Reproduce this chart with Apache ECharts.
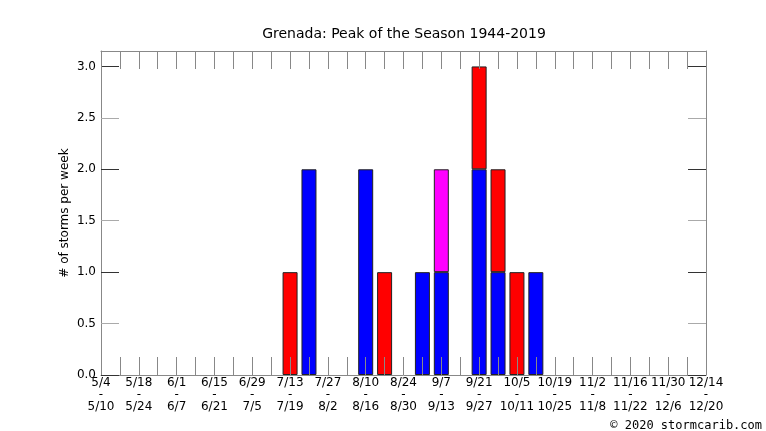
<!DOCTYPE html>
<html><head><meta charset="utf-8">
<script src="https://cdn.jsdelivr.net/npm/echarts@6/dist/echarts.min.js"></script>
<style>html,body{margin:0;padding:0;background:#fff}#c{width:766px;height:431px}</style>
</head><body><div id="c"></div>
<script>
var weekStarts = ['5/4','5/11','5/18','5/25','6/1','6/8','6/15','6/22','6/29','7/6','7/13','7/20','7/27','8/3','8/10','8/17','8/24','8/31','9/7','9/14','9/21','9/28','10/5','10/12','10/19','10/26','11/2','11/9','11/16','11/23','11/30','12/7','12/14'];
var weekEnds = ['5/10','5/17','5/24','5/31','6/7','6/14','6/21','6/28','7/5','7/12','7/19','7/26','8/2','8/9','8/16','8/23','8/30','9/6','9/13','9/20','9/27','10/4','10/11','10/18','10/25','11/1','11/8','11/15','11/22','11/29','12/6','12/13','12/20'];
var blueVals    = [0,0,0,0,0,0,0,0,0,0,0,2,0,0,2,0,0,1,1,0,2,1,0,1,0,0,0,0,0,0,0,0,0];
var redVals     = [0,0,0,0,0,0,0,0,0,0,1,0,0,0,0,1,0,0,0,0,1,1,1,0,0,0,0,0,0,0,0,0,0];
var magentaVals = [0,0,0,0,0,0,0,0,0,0,0,0,0,0,0,0,0,0,1,0,0,0,0,0,0,0,0,0,0,0,0,0,0];
var yTicksMinor = [0, 0.5, 1, 1.5, 2, 2.5, 3];
var yTicksMajor = [0, 1, 2, 3];
var titleText = 'Grenada: Peak of the Season 1944-2019';
var yName = '# of storms per week';
var creditText = '\u00a9 2020 stormcarib.com';

function nz(a){ return a.map(function(v){ return v === 0 ? '-' : v; }); }
var font = 'DejaVu Sans';
var chart = echarts.init(document.getElementById('c'), null, {renderer:'canvas'});
var barStyle = function(c){ return {color:c, borderColor:'#222', borderWidth:1}; };
function yAx(pos, ticks, tickColor, extra){
  var o = {
    type:'value', min:0, max:3.15, position:pos, z:5,
    axisLine:{show:true, onZero:false, lineStyle:{color:'#888', width:1}},
    axisTick:{show:true, inside:true, length:18, customValues:ticks, lineStyle:{color:tickColor}},
    axisLabel:{show:false}, splitLine:{show:false}
  };
  for (var k in extra) o[k] = extra[k];
  return o;
}
chart.setOption({
  animation:false,
  backgroundColor:'#fff',
  title:{text:titleText, left:399, top:22, textAlign:'center',
    textStyle:{fontFamily:font, fontSize:14, fontWeight:'normal', color:'#000'}},
  graphic:[{type:'text', right:4, top:420, style:{text:creditText, fontFamily:'DejaVu Sans Mono', fontSize:12, fill:'#000'}}],
  grid:{left:101, right:60, top:51, bottom:56},
  xAxis:[{
    type:'category', data:weekStarts, boundaryGap:false, position:'bottom', z:5,
    axisLine:{show:true, onZero:false, lineStyle:{color:'#888', width:1}},
    axisTick:{show:true, inside:true, length:18, interval:0, lineStyle:{color:'#888'}},
    axisLabel:{interval:1, margin:2, fontFamily:font, fontSize:12, color:'#000', lineHeight:12,
      formatter:function(v, i){ return v + '\n-\n' + weekEnds[i]; }},
    splitLine:{show:false}
  },{
    type:'category', data:weekStarts, boundaryGap:false, position:'top', z:5,
    axisLine:{show:true, onZero:false, lineStyle:{color:'#888', width:1}},
    axisTick:{show:true, inside:true, length:18, interval:0, lineStyle:{color:'#888'}},
    axisLabel:{show:false}, splitLine:{show:false}
  }],
  yAxis:[
    yAx('left', yTicksMinor, '#aaa', {
      name:yName, nameLocation:'middle', nameGap:30, nameRotate:90, nameMoveOverlap:false,
      nameTextStyle:{fontFamily:font, fontSize:12, color:'#000'},
      axisLabel:{show:true, customValues:yTicksMinor, fontFamily:font, fontSize:12, color:'#000', margin:5,
        formatter:function(v){ return v.toFixed(1); }}
    }),
    yAx('right', yTicksMinor, '#aaa', {}),
    yAx('left', yTicksMajor, '#333', {axisLine:{show:false}}),
    yAx('right', yTicksMajor, '#333', {axisLine:{show:false}})
  ],
  series:[
    {name:'blue', type:'bar', stack:'s', xAxisIndex:0, yAxisIndex:0, barWidth:15, data:nz(blueVals), itemStyle:barStyle('#0000ff')},
    {name:'red', type:'bar', stack:'s', xAxisIndex:0, yAxisIndex:0, barWidth:15, data:nz(redVals), itemStyle:barStyle('#ff0000')},
    {name:'magenta', type:'bar', stack:'s', xAxisIndex:0, yAxisIndex:0, barWidth:15, data:nz(magentaVals), itemStyle:barStyle('#ff00ff')}
  ]
});
</script></body></html>
